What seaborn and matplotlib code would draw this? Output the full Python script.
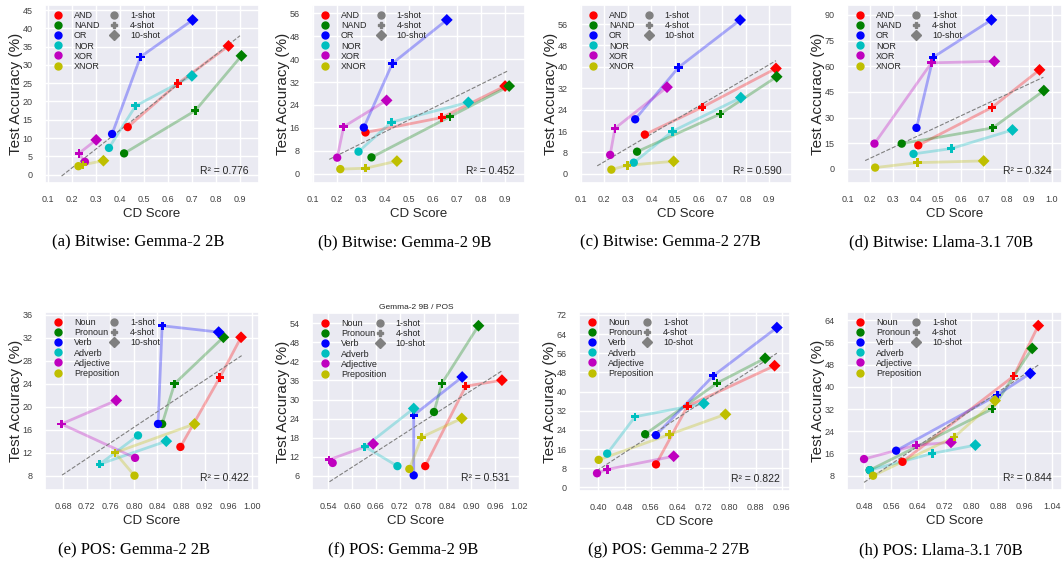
import matplotlib
matplotlib.use("Agg")
import matplotlib.pyplot as plt
from matplotlib.lines import Line2D
from matplotlib.ticker import FormatStrFormatter
import seaborn as sns
import pandas as pd
import numpy as np

sns.set_theme(style="darkgrid")
plt.rcParams["font.family"] = ["Liberation Sans", "DejaVu Sans"]

# ---- data (rows = categories, cols = 1/4/10-shot) ----
BIT_CATS = ["AND", "NAND", "OR", "NOR", "XOR", "XNOR"]
POS_CATS = ["Noun", "Pronoun", "Verb", "Adverb", "Adjective", "Preposition"]
SHOTS = ["1-shot", "4-shot", "10-shot"]

bit_g2b_cd = [[0.433, 0.641, 0.852], [0.418, 0.714, 0.906], [0.368, 0.486, 0.703],
              [0.355, 0.466, 0.700], [0.255, 0.230, 0.302], [0.228, 0.247, 0.332]]
bit_g2b_acc = [[13.0, 24.9, 35.2], [5.8, 17.5, 32.5], [11.1, 32.2, 42.3],
               [7.3, 18.8, 27.0], [3.5, 5.8, 9.5], [2.3, 2.7, 3.8]]

bit_g9b_cd = [[0.318, 0.636, 0.900], [0.343, 0.670, 0.917], [0.311, 0.430, 0.657],
              [0.289, 0.426, 0.747], [0.200, 0.227, 0.406], [0.213, 0.318, 0.449]]
bit_g9b_acc = [[14.4, 19.6, 30.6], [5.7, 19.9, 30.6], [16.1, 38.5, 53.7],
               [7.7, 18.0, 24.9], [5.6, 16.4, 25.6], [1.6, 1.9, 4.4]]

bit_g27b_cd = [[0.372, 0.615, 0.928], [0.339, 0.692, 0.931], [0.331, 0.515, 0.776],
               [0.325, 0.489, 0.779], [0.225, 0.245, 0.466], [0.230, 0.297, 0.494]]
bit_g27b_acc = [[14.7, 24.9, 39.4], [8.3, 22.4, 36.3], [20.4, 39.8, 57.5],
                [4.2, 15.9, 28.5], [7.1, 17.0, 32.4], [1.6, 3.2, 4.7]]

bit_l70b_cd = [[0.412, 0.737, 0.946], [0.339, 0.740, 0.965], [0.404, 0.478, 0.734],
               [0.391, 0.557, 0.827], [0.219, 0.470, 0.747], [0.222, 0.409, 0.700]]
bit_l70b_acc = [[13.8, 36.0, 57.9], [14.8, 24.0, 45.8], [24.0, 65.3, 87.1],
                [8.8, 11.9, 22.8], [14.8, 62.0, 62.9], [0.8, 3.7, 4.7]]

pos_g2b_cd = [[0.879, 0.946, 0.982], [0.848, 0.869, 0.952], [0.841, 0.848, 0.944],
              [0.807, 0.742, 0.855], [0.802, 0.677, 0.770], [0.801, 0.768, 0.903]]
pos_g2b_acc = [[13.0, 25.1, 32.1], [17.0, 24.0, 32.1], [17.0, 34.1, 33.0],
               [15.0, 10.0, 14.0], [11.1, 17.0, 21.1], [8.0, 12.0, 17.0]]

pos_g9b_cd = [[0.784, 0.886, 0.977], [0.806, 0.826, 0.918], [0.755, 0.755, 0.877],
              [0.714, 0.632, 0.755], [0.551, 0.542, 0.653], [0.744, 0.775, 0.876]]
pos_g9b_acc = [[9.1, 34.2, 36.1], [26.1, 35.1, 53.2], [6.2, 25.1, 37.1],
               [9.1, 15.2, 27.2], [10.1, 11.1, 16.1], [8.2, 18.2, 24.1]]

pos_g27b_cd = [[0.576, 0.672, 0.938], [0.543, 0.762, 0.909], [0.576, 0.751, 0.945],
               [0.427, 0.512, 0.722], [0.396, 0.427, 0.630], [0.401, 0.617, 0.788]]
pos_g27b_acc = [[9.6, 33.9, 50.8], [22.2, 43.5, 53.9], [21.8, 46.6, 66.7],
                [14.1, 29.5, 35.0], [5.9, 7.5, 13.0], [11.5, 22.1, 30.5]]

pos_l70b_cd = [[0.594, 0.927, 1.000], [0.496, 0.862, 0.982], [0.575, 0.877, 0.976],
               [0.496, 0.683, 0.812], [0.479, 0.635, 0.739], [0.506, 0.749, 0.871]]
pos_l70b_acc = [[13.0, 43.9, 62.0], [10.0, 32.0, 53.8], [17.0, 37.0, 44.8],
                [10.0, 16.0, 19.0], [14.0, 19.0, 20.0], [8.0, 21.9, 35.0]]

# trend line ends: (cd start, cd end), (acc start, acc end)
FIT_CD = [(0.158, 0.900), (0.167, 0.914), (0.170, 0.928), (0.178, 0.963),
          (0.678, 0.983), (0.543, 0.978), (0.395, 0.945), (0.479, 1.000)]
FIT_ACC = [(-0.4, 38.0), (5.0, 36.0), (3.0, 42.3), (4.9, 53.6),
           (8.1, 28.9), (4.2, 39.1), (6.9, 56.0), (5.6, 47.8)]
R2_LABELS = ["0.776", "0.452", "0.590", "0.324", "0.422", "0.531", "0.822", "0.844"]
CAPTIONS = ["(a) Bitwise: Gemma-2 2B", "(b) Bitwise: Gemma-2 9B",
            "(c) Bitwise: Gemma-2 27B", "(d) Bitwise: Llama-3.1 70B",
            "(e) POS: Gemma-2 2B", "(f) POS: Gemma-2 9B",
            "(g) POS: Gemma-2 27B", "(h) POS: Llama-3.1 70B"]

# ---- style / layout ----
COLORS = ["#ff0000", "#008000", "#0000ff", "#00bfbf", "#bf00bf", "#bfbf00"]
SHOT_MARKERS = {"1-shot": "o", "4-shot": "P", "10-shot": "D"}
W, H = 1063, 569

panels = [
    dict(cd=bit_g2b_cd, acc=bit_g2b_acc, cats=BIT_CATS, box=(45, 5, 259, 183),
         xlim=(0.089, 0.979), ylim=(-2.3, 46.4), xt=np.arange(0.1, 0.95, 0.1), yt=np.arange(0, 46, 5),
         xfmt="%.1f"),
    dict(cd=bit_g9b_cd, acc=bit_g9b_acc, cats=BIT_CATS, box=(312, 5, 525, 183),
         xlim=(0.095, 0.983), ylim=(-3.25, 58.9), xt=np.arange(0.1, 0.95, 0.1), yt=np.arange(0, 57, 8),
         xfmt="%.1f"),
    dict(cd=bit_g27b_cd, acc=bit_g27b_acc, cats=BIT_CATS, box=(580, 5, 792, 183),
         xlim=(0.097, 0.996), ylim=(-3.4, 63.1), xt=np.arange(0.1, 0.95, 0.1), yt=np.arange(0, 57, 8),
         xfmt="%.1f"),
    dict(cd=bit_l70b_cd, acc=bit_l70b_acc, cats=BIT_CATS, box=(847, 5, 1062, 183),
         xlim=(0.098, 1.045), ylim=(-8.2, 95.8), xt=np.arange(0.1, 1.05, 0.1), yt=np.arange(0, 91, 15),
         xfmt="%.1f"),
    dict(cd=pos_g2b_cd, acc=pos_g2b_acc, cats=POS_CATS, box=(45, 312, 259, 490),
         xlim=(0.649, 1.0125), ylim=(5.5, 36.5), xt=np.arange(0.68, 1.01, 0.04), yt=np.arange(8, 37, 4),
         xfmt="%.2f"),
    dict(cd=pos_g9b_cd, acc=pos_g9b_acc, cats=POS_CATS, box=(312, 313, 520, 490),
         xlim=(0.499, 1.0225), ylim=(1.6, 57.2), xt=np.arange(0.54, 1.03, 0.06), yt=np.arange(6, 55, 6),
         xfmt="%.2f", title="Gemma-2 9B / POS"),
    dict(cd=pos_g27b_cd, acc=pos_g27b_acc, cats=POS_CATS, box=(579, 312, 790, 491),
         xlim=(0.341, 0.985), ylim=(-1.5, 73.2), xt=np.arange(0.40, 0.97, 0.08), yt=np.arange(0, 73, 8),
         xfmt="%.2f"),
    dict(cd=pos_l70b_cd, acc=pos_l70b_acc, cats=POS_CATS, box=(847, 312, 1062, 490),
         xlim=(0.428, 1.071), ylim=(2.86, 66.9), xt=np.arange(0.48, 1.05, 0.08), yt=np.arange(8, 65, 8),
         xfmt="%.2f"),
]
CAPTION_X = [138, 405, 670, 941, 134, 403, 669, 941]
CAPTION_Y = [242, 550]


def to_frame(cd, acc, cats):
    rows = []
    for cat, xs, ys in zip(cats, cd, acc):
        for shot, x, y in zip(SHOTS, xs, ys):
            rows.append({"cat": cat, "shot": shot, "cd": x, "acc": y})
    return pd.DataFrame(rows)


fig = plt.figure(figsize=(W / 100, H / 100), dpi=100)
leg_kw = dict(loc="upper left", frameon=False, fontsize=6.5, handlelength=1.5,
              handletextpad=1.0, labelspacing=0.12, borderpad=0.2)

for i, p in enumerate(panels):
    l, t, r, b = p["box"]
    ax = fig.add_axes([l / W, 1 - b / H, (r - l) / W, (b - t) / H])
    df = to_frame(p["cd"], p["acc"], p["cats"])
    pal = dict(zip(p["cats"], COLORS))

    sns.lineplot(data=df, x="cd", y="acc", hue="cat", units="cat", estimator=None,
                 sort=False, palette=pal, alpha=0.3, linewidth=2, legend=False, ax=ax)
    sns.scatterplot(data=df, x="cd", y="acc", hue="cat", style="shot", markers=SHOT_MARKERS,
                    palette=pal, s=36, linewidth=0, legend=False, zorder=3, ax=ax)

    sns.lineplot(x=list(FIT_CD[i]), y=list(FIT_ACC[i]), color="gray", linestyle="--",
                 linewidth=0.8, zorder=2, ax=ax)

    ax.text(0.95, 0.05, f"R\u00b2 = {R2_LABELS[i]}", transform=ax.transAxes,
            ha="right", va="baseline", fontsize=7.5, color=".15")

    ax.set_xlim(*p["xlim"])
    ax.set_ylim(*p["ylim"])
    ax.set_xticks(p["xt"])
    ax.set_yticks(p["yt"])
    ax.xaxis.set_major_formatter(FormatStrFormatter(p["xfmt"]))
    ax.yaxis.set_major_formatter(FormatStrFormatter("%d"))
    ax.tick_params(labelsize=6.5, colors=".25", pad=3)
    ax.tick_params(axis="x", pad=2.5)
    ax.set_xlabel("CD Score", fontsize=9.5, labelpad=3)
    ax.set_ylabel("Test Accuracy (%)", fontsize=11, labelpad=-0.5)
    if "title" in p:
        ax.set_title(p["title"], fontsize=6, pad=3)

    cat_handles = [Line2D([], [], marker="o", color=c, linestyle="", markersize=5, label=cat)
                   for cat, c in zip(p["cats"], COLORS)]
    shot_handles = [Line2D([], [], marker=m, color="gray", linestyle="", markersize=5, label=s)
                    for s, m in SHOT_MARKERS.items()]
    leg1 = ax.legend(handles=cat_handles, bbox_to_anchor=(0, 1), **leg_kw)
    ax.add_artist(leg1)
    ax.legend(handles=shot_handles, bbox_to_anchor=(0.262, 1), **leg_kw)

    fig.text(CAPTION_X[i] / W, 1 - CAPTION_Y[i // 4] / H, CAPTIONS[i], ha="center", va="center",
             fontsize=12, family="Liberation Serif", color="black")

fig.savefig("out.png", dpi=100)
